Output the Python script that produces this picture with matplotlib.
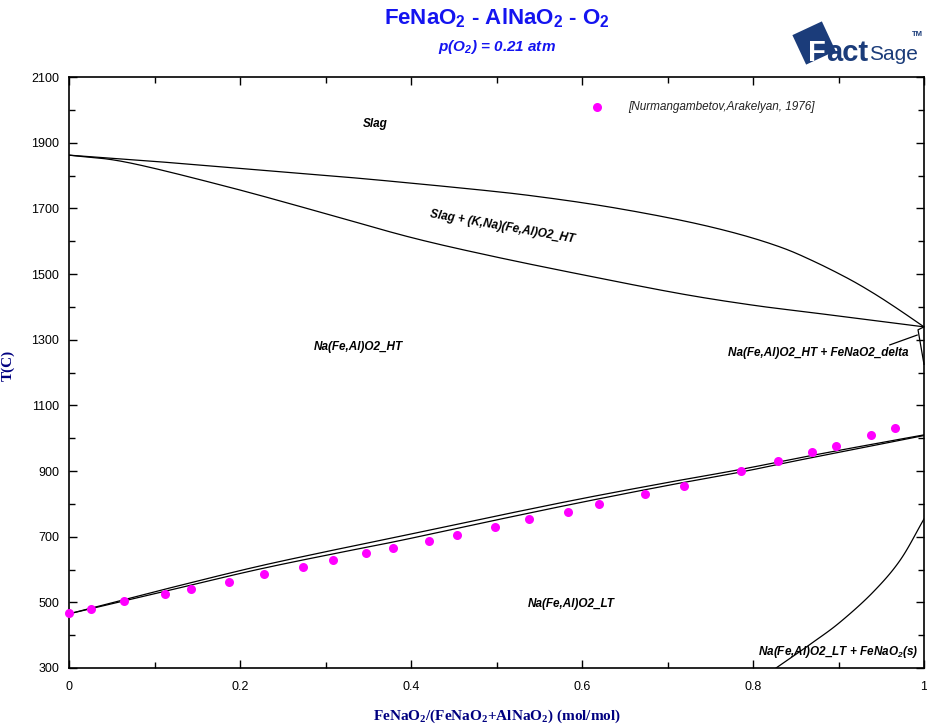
import matplotlib
matplotlib.use("Agg")
import matplotlib.pyplot as plt
from matplotlib.patches import Polygon
from matplotlib.ticker import MultipleLocator
import numpy as np

plt.rcParams['mathtext.default'] = 'regular'
plt.rcParams['font.family'] = ['Liberation Sans', 'DejaVu Sans']

# Liquidus (upper boundary of Slag + solid field)
liq_x = [0.0, 0.10, 0.262, 0.35, 0.481, 0.551, 0.63, 0.715, 0.78, 0.832, 0.87, 0.91, 0.94, 0.968, 1.0]
liq_T = [1862, 1843, 1808, 1789, 1756, 1735, 1705, 1664, 1624, 1582, 1540, 1488, 1443, 1396, 1339]

# Solidus (lower boundary of Slag + solid field)
sol_x = [0.0, 0.068, 0.185, 0.30, 0.399, 0.492, 0.60, 0.715, 0.80, 0.87, 0.93, 1.0]
sol_T = [1862, 1840, 1766, 1684, 1612, 1556, 1498, 1440, 1405, 1382, 1362, 1339]

# HT / LT transition pair
ht_x = [0.0, 0.10, 0.212, 0.30, 0.387, 0.50, 0.60, 0.70, 0.786, 0.85, 0.93, 1.0]
ht_T = [465, 532, 604, 654, 701, 763, 816, 865, 905, 938, 977, 1010]
lt_x = [0.0, 0.10, 0.212, 0.30, 0.387, 0.50, 0.60, 0.70, 0.786, 0.85, 0.93, 1.0]
lt_T = [465, 526, 595, 643, 688, 751, 805, 856, 897, 931, 972, 1008]

# LT + FeNaO2(s) boundary
fe_x = [0.827, 0.87, 0.902, 0.940, 0.972, 1.0]
fe_T = [300, 378, 440, 530, 628, 754]

# small FeNaO2_delta field at the FeNaO2 end
delta_x = [1.0, 0.993, 1.0]
delta_T = [1339, 1330, 1225]

# Experimental points [Nurmangambetov, Arakelyan, 1976]
exp_x = [0.0, 0.026, 0.064, 0.112, 0.143, 0.187, 0.228, 0.274, 0.309, 0.347, 0.379,
         0.421, 0.454, 0.498, 0.538, 0.584, 0.620, 0.674, 0.719, 0.786, 0.829,
         0.869, 0.897, 0.938, 0.966]
exp_T = [468, 480, 504, 525, 541, 562, 586, 608, 629, 650, 665,
         687, 705, 729, 754, 775, 800, 830, 854, 900, 930,
         958, 976, 1010, 1031]

x_ticks = [0, 0.2, 0.4, 0.6, 0.8, 1]
x_tick_labels = ['0', '0.2', '0.4', '0.6', '0.8', '1']
y_ticks = list(range(300, 2101, 200))


def catmull_rom(xs, ys, n=24):
    """Smooth curve passing through every given point."""
    p = np.column_stack([xs, ys]).astype(float)
    p = np.vstack([2 * p[0] - p[1], p, 2 * p[-1] - p[-2]])
    out = []
    t = np.linspace(0, 1, n, endpoint=False)[:, None]
    for i in range(1, len(p) - 2):
        p0, p1, p2, p3 = p[i - 1], p[i], p[i + 1], p[i + 2]
        seg = 0.5 * ((2 * p1) + (-p0 + p2) * t + (2 * p0 - 5 * p1 + 4 * p2 - p3) * t ** 2
                     + (-p0 + 3 * p1 - 3 * p2 + p3) * t ** 3)
        out.append(seg)
    out.append(p[-2][None, :])
    c = np.vstack(out)
    return c[:, 0], c[:, 1]


W, H = 927, 727
fig = plt.figure(figsize=(W / 100, H / 100), dpi=100)
ax = fig.add_axes([69 / W, 1 - 668 / H, (924 - 69) / W, (668 - 77) / H])

lc = 'black'
lw = 0.9
for xs, ys in [(liq_x, liq_T), (sol_x, sol_T), (ht_x, ht_T), (lt_x, lt_T), (fe_x, fe_T)]:
    sx, sy = catmull_rom(xs, ys)
    ax.plot(sx, sy, color=lc, lw=lw)
ax.plot(delta_x, delta_T, color=lc, lw=lw, clip_on=False)
ax.plot([0.960, 0.992], [1284, 1314], color=lc, lw=lw)

ax.plot(exp_x, exp_T, 'o', color='#FF00FF', ms=6.5, mec='none', clip_on=False, zorder=5)

ax.set_xlim(0, 1)
ax.set_ylim(300, 2100)
ax.set_xticks(x_ticks)
ax.set_xticklabels(x_tick_labels)
ax.set_yticks(y_ticks)
ax.xaxis.set_minor_locator(MultipleLocator(0.1))
ax.yaxis.set_minor_locator(MultipleLocator(100))
ax.tick_params(which='both', direction='in', top=True, right=True, labelsize=9)
ax.tick_params(axis='x', pad=9)
ax.tick_params(axis='y', pad=7)
ax.tick_params(which='major', length=6, width=1)
ax.tick_params(which='minor', length=4, width=1)
for s in ax.spines.values():
    s.set_linewidth(1.2)

# region labels
bi = dict(fontsize=8.5, fontweight='bold', fontstyle='italic', color='black')
ax.text(0.358, 1956, 'Slag', ha='center', va='center', **bi)
ax.text(0.507, 1645, 'Slag + (K,Na)(Fe,Al)O2_HT', ha='center', va='center', rotation=-10, **bi)
ax.text(0.338, 1278, 'Na(Fe,Al)O2_HT', ha='center', va='center', **bi)
ax.text(0.876, 1259, 'Na(Fe,Al)O2_HT + FeNaO2_delta', ha='center', va='center', **bi)
ax.text(0.587, 496, 'Na(Fe,Al)O2_LT', ha='center', va='center', **bi)
ax.text(0.900, 350, 'Na(Fe,Al)O2_LT + FeNaO$_2$(s)', ha='center', va='center', **bi)

# legend entry
ax.plot([0.617], [2010], 'o', color='#FF00FF', ms=6.5, mec='none')
ax.text(0.654, 2010, '[Nurmangambetov,Arakelyan, 1976]', ha='left', va='center',
        fontsize=8.5, fontstyle='italic', color='#222222')

# titles
blue = '#1414F0'
fig.text(497 / W, 1 - 18 / H, 'FeNaO$_2$ - AlNaO$_2$ - O$_2$', ha='center', va='center',
         fontsize=16, fontweight='bold', color=blue)
fig.text(497 / W, 1 - 47 / H, 'p(O$_2$) = 0.21 atm', ha='center', va='center',
         fontsize=11, fontweight='bold', fontstyle='italic', color=blue)

navy = '#000080'
fig.text(497 / W, 1 - 716 / H, 'FeNaO$_2$/(FeNaO$_2$+AlNaO$_2$) (mol/mol)', ha='center',
         va='center', fontsize=11, fontweight='bold', family=['Liberation Serif'], color=navy)
fig.text(8 / W, 1 - 365 / H, 'T(C)', ha='center', va='center', rotation=90,
         fontsize=11, fontweight='bold', family=['Liberation Serif'], color=navy)

# FactSage logo
logo = '#1B3C7A'
cx, cy, r, ang = 814, 43, 23, np.deg2rad(25)
pts = []
for k in range(4):
    a = ang + k * np.pi / 2 + np.pi / 4
    pts.append(((cx + r * np.cos(a)) / W, 1 - (cy - r * np.sin(a)) / H))
fig.patches.append(Polygon(pts, closed=True, transform=fig.transFigure, facecolor=logo,
                           edgecolor='none'))
fig.text(808 / W, 1 - 61 / H, 'F', ha='left', va='baseline', fontsize=21,
         fontweight='bold', color='white')
fig.text(826 / W, 1 - 61 / H, 'act', ha='left', va='baseline', fontsize=21,
         fontweight='bold', color=logo)
fig.text(869 / W, 1 - 60 / H, 'Sage', ha='left', va='baseline', fontsize=15,
         color=logo)
fig.text(912 / W, 1 - 36 / H, 'TM', ha='left', va='baseline', fontsize=5.5,
         fontweight='bold', color=logo)

fig.savefig('out.png', dpi=100)
